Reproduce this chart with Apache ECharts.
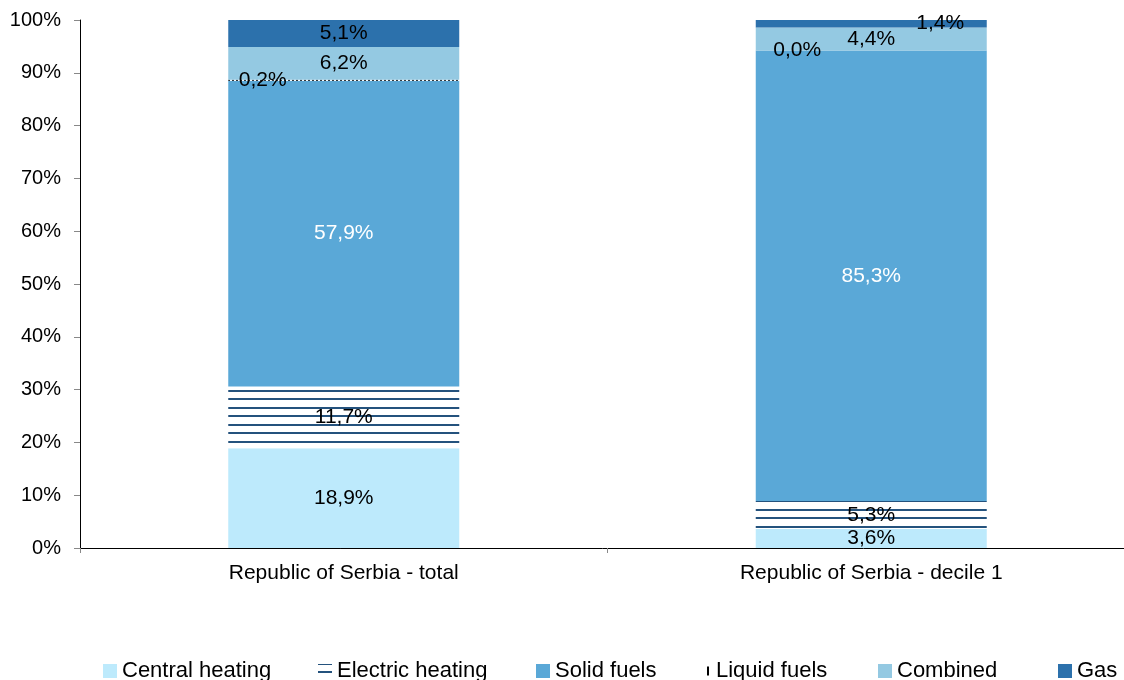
<!DOCTYPE html>
<html lang="en">

<head>
    <meta charset="UTF-8">
    <title>Heating by fuel type</title>
    <script src="https://cdn.jsdelivr.net/npm/echarts@6/dist/echarts.min.js"></script>
    <style>
        body { margin: 0; background: #fff; }
    </style>
</head>

<body>
    <div id="main" style="width: 1124px;height:680px;"></div>
    <script type="text/javascript">
        // data
        var categories = ['Republic of Serbia - total', 'Republic of Serbia - decile 1']
        var centralHeating = [18.9, 3.6]
        var electricHeating = [11.7, 5.3]
        var solidFuels = [57.9, 85.3]
        var liquidFuels = [0.2, 0.0]
        var combined = [6.2, 4.4]
        var gas = [5.1, 1.4]
        var yTicks = [0, 10, 20, 30, 40, 50, 60, 70, 80, 90, 100]

        var FONT = 'Arial, "Liberation Sans", sans-serif'

        // horizontal hatching for electric heating (period 17px, two lines)
        function hatchH() {
            var c = document.createElement('canvas')
            c.width = 8; c.height = 17
            var ctx = c.getContext('2d')
            ctx.fillStyle = '#fff'
            ctx.fillRect(0, 0, 8, 17)
            ctx.fillStyle = '#24527d'
            ctx.fillRect(0, 0, 8, 1)
            ctx.fillRect(0, 16, 8, 1)
            ctx.fillRect(0, 7, 8, 2)
            return c
        }
        // small vertical dashes for liquid fuels
        function hatchV() {
            var c = document.createElement('canvas')
            c.width = 4; c.height = 4
            var ctx = c.getContext('2d')
            ctx.fillStyle = '#fff'
            ctx.fillRect(0, 0, 4, 4)
            ctx.fillStyle = '#000'
            ctx.fillRect(0, 0, 2, 4)
            return c
        }

        var myChart = echarts.init(document.getElementById('main'))

        function lbl(color) {
            return { show: true, position: 'inside', color: color, fontSize: 21, fontFamily: FONT, formatter: p => p.value.toFixed(1).replace('.', ',') + '%' }
        }
        function mk(name, data, color, labelColor, offsets) {
            return {
                name: name,
                type: 'bar',
                stack: 'all',
                barWidth: 231,
                data: data.map((v, i) => offsets && offsets[i] ? { value: v, label: { offset: offsets[i] } } : v),
                itemStyle: { color: color },
                label: lbl(labelColor),
                emphasis: { disabled: true }
            }
        }

        var names = ['Central heating', 'Electric heating', 'Solid fuels', 'Liquid fuels', 'Combined', 'Gas']
        var legendX = [103, 318, 536, 707, 878, 1058]

        var legends = names.map((n, i) => {
            var l = {
                data: [n], left: legendX[i], top: 660, padding: 0,
                icon: 'rect',
                itemWidth: 14, itemHeight: 14, itemGap: 5,
                textStyle: { fontSize: 22, fontFamily: FONT, color: '#000' },
                selectedMode: false
            }
            if (n === 'Liquid fuels') {
                l.data = [{ name: n, icon: 'rect', itemStyle: { color: '#000' } }]
                l.itemWidth = 2
                l.itemHeight = 9
                l.textStyle.padding = [0, 0, 0, 2]
            }
            return l
        })

        var option = {
            animation: false,
            grid: { left: 80, top: 20, width: 1055, height: 528, outerBoundsMode: 'none' },
            legend: legends,
            xAxis: {
                type: 'category',
                data: categories,
                axisLine: { lineStyle: { color: '#000', width: 1 } },
                axisTick: { show: true, length: 5, lineStyle: { color: '#888' } },
                axisLabel: { fontSize: 21, fontFamily: FONT, color: '#000', margin: 15 }
            },
            yAxis: {
                type: 'value',
                min: yTicks[0],
                max: yTicks[yTicks.length - 1],
                interval: 10,
                splitLine: { show: false },
                axisLine: { show: true, lineStyle: { color: '#000', width: 1 } },
                axisTick: { show: true, length: 6, lineStyle: { color: '#888' } },
                axisLabel: { fontSize: 20, fontFamily: FONT, color: '#000', margin: 19, formatter: '{value}%' }
            },
            series: [
                mk('Central heating', centralHeating, '#bdeafc', '#000'),
                mk('Electric heating', electricHeating, { image: hatchH(), repeat: 'repeat' }, '#000'),
                mk('Solid fuels', solidFuels, '#5aa8d7', '#fff'),
                mk('Liquid fuels', liquidFuels, { image: hatchV(), repeat: 'repeat' }, '#000', [[-81, 0], [-74, 0]]),
                mk('Combined', combined, '#94c9e2', '#000'),
                mk('Gas', gas, '#2c71ac', '#000', [null, [69, 0]])
            ]
        }

        myChart.setOption(option)
    </script>
</body>

</html>
